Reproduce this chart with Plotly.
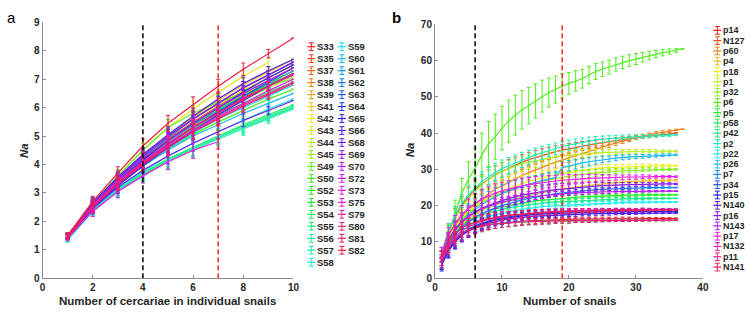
import colorsys
import plotly.graph_objects as go

# ---------------- Panel a data ----------------
names_a = ["S33", "S35", "S37", "S38", "S39", "S41", "S42", "S43", "S44", "S45",
           "S49", "S50", "S52", "S53", "S54", "S55", "S56", "S57", "S58",
           "S59", "S60", "S61", "S62", "S63", "S64", "S65", "S66", "S68", "S69",
           "S70", "S72", "S73", "S75", "S79", "S80", "S81", "S82"]
vals_a = [
    [1.45, 2.5, 3.35, 4.1, 4.75, 5.35, 5.85, 6.35, 6.8, 7.2],
    [1.5, 2.6, 3.45, 4.25, 4.95, 5.6, 6.15, 6.7, 7.15, 7.6],
    [1.45, 2.55, 3.45, 4.2, 4.9, 5.5, 6.05, 6.6, 7.05, 7.5],
    [1.5, 2.55, 3.4, 4.15, 4.8, 5.4, 5.95, 6.5, 6.95, 7.4],
    [1.45, 2.5, 3.4, 4.1, 4.75, 5.35, 5.9, 6.4, 6.85, 7.3],
    [1.5, 2.6, 3.5, 4.3, 5.0, 5.65, 6.25, 6.8, 7.25, 7.7],
    [1.5, 2.65, 3.6, 4.5, 5.3, 5.95, 6.55, 7.1, 7.6],
    [1.5, 2.6, 3.5, 4.3, 5.0, 5.6, 6.1, 6.6, 7.05, 7.5],
    [1.45, 2.55, 3.4, 4.1, 4.7, 5.3, 5.8, 6.25, 6.7, 7.1],
    [1.5, 2.6, 3.45, 4.2, 4.85, 5.45, 5.95, 6.45, 6.9, 7.3],
    [1.5, 2.65, 3.6, 4.5, 5.3, 5.8, 6.2, 6.5, 6.8, 7.0],
    [1.45, 2.5, 3.3, 3.95, 4.55, 5.05, 5.5, 5.9, 6.3, 6.65],
    [1.5, 2.55, 3.45, 4.2, 4.85, 5.45, 5.95, 6.4, 6.8, 7.2],
    [1.45, 2.5, 3.35, 4.05, 4.7, 5.25, 5.75, 6.15, 6.55, 6.9],
    [1.4, 2.4, 3.15, 3.7, 4.2, 4.6, 5.0, 5.4, 5.75, 6.1],
    [1.4, 2.4, 3.1, 3.65, 4.15, 4.55, 4.95, 5.3, 5.65, 6.0],
    [1.35, 2.35, 3.1, 3.7, 4.15, 4.6, 5.0, 5.35, 5.7, 6.05],
    [1.35, 2.35, 3.05, 3.6, 4.1, 4.5, 4.9, 5.25, 5.6, 5.95],
    [1.4, 2.4, 3.15, 3.75, 4.3, 4.75, 5.15, 5.55, 5.95, 6.3],
    [1.45, 2.45, 3.25, 3.95, 4.55, 5.1, 5.6, 6.0, 6.4, 6.8],
    [1.45, 2.5, 3.3, 3.95, 4.5, 5.0, 5.4, 5.8, 6.15, 6.5],
    [1.5, 2.55, 3.4, 4.15, 4.8, 5.4, 5.9, 6.4, 6.85, 7.3],
    [1.5, 2.6, 3.5, 4.25, 4.95, 5.6, 6.15, 6.7, 7.15, 7.6],
    [1.45, 2.5, 3.35, 4.05, 4.7, 5.3, 5.85, 6.4, 6.9, 7.4],
    [1.45, 2.45, 3.25, 3.95, 4.6, 5.2, 5.75, 6.25, 6.75, 7.2],
    [1.5, 2.55, 3.4, 4.15, 4.85, 5.45, 6.0, 6.55, 7.05, 7.5],
    [1.5, 2.65, 3.55, 4.35, 5.05, 5.7, 6.3, 6.85, 7.3, 7.7],
    [1.45, 2.45, 3.2, 3.8, 4.3, 4.75, 5.15, 5.55, 5.9, 6.25],
    [1.5, 2.6, 3.5, 4.3, 5.0, 5.6, 6.15, 6.7, 7.15, 7.6],
    [1.5, 2.55, 3.45, 4.2, 4.85, 5.45, 6.0, 6.5, 6.95, 7.4],
    [1.45, 2.5, 3.3, 4.0, 4.65, 5.2, 5.7, 6.15, 6.6, 7.0],
    [1.4, 2.35, 3.05, 3.6, 4.1, 4.5, 4.8],
    [1.5, 2.55, 3.4, 4.1, 4.75, 5.3, 5.8, 6.3, 6.75, 7.15],
    [1.45, 2.5, 3.3, 4.0, 4.6, 5.15, 5.65, 6.1, 6.5, 6.9],
    [1.5, 2.5, 3.35, 4.05, 4.7, 5.3, 5.8, 6.3, 6.75, 7.2],
    [1.45, 2.5, 3.3, 4.0, 4.6, 5.15, 5.6, 6.05, 6.45, 6.85],
    [1.5, 2.7, 3.7, 4.65, 5.45, 6.1, 6.75, 7.35, 7.9, 8.45],
]
err_a = [0.08, 0.18, 0.22, 0.25, 0.28, 0.28, 0.25, 0.22, 0.15, 0.0]
vlines_a = [4, 7]

# ---------------- Panel b data ----------------
names_b = ["p14", "N127", "p60", "p4", "p18", "p1", "p32", "p6", "p5", "p58", "p42", "p2",
           "p22", "p26", "p7", "p34", "p15", "N140", "p16", "N143", "p17", "N132", "p11", "N141"]
vals_b = [
    [4, 8, 10.5, 12, 13, 13.8, 14.3, 14.7, 15, 15.2, 15.4, 15.5, 15.7, 15.8, 15.9, 16, 16, 16.1, 16.2, 16.2, 16.3, 16.3, 16.3, 16.4, 16.4, 16.4, 16.4, 16.5, 16.5, 16.5, 16.5, 16.5, 16.5, 16.5, 16.5, 16.5],
    [7, 13, 17, 20, 22.5, 24.5, 26, 27.3, 28.5, 29.5, 30.4, 31.2, 32, 32.7, 33.3, 33.9, 34.4, 34.9, 35.3, 35.7, 36.1, 36.5, 36.8, 37.1, 37.4, 37.7, 38, 38.3, 38.5, 38.8, 39, 39.2, 39.4, 39.6, 39.8, 40],
    [6, 11, 14.5, 17, 19, 20.5, 22, 23.3, 24.5, 25.5, 26.5, 27.4, 28.3, 29.1, 29.9, 30.6, 31.3, 32, 32.6, 33.3, 33.9, 34.5, 35.1, 35.7, 36.3, 36.8, 37.3, 37.8, 38.3, 38.8, 39.2, 39.6, 40, 40.3, 40.6, 40.9, 41.1],
    [5, 10, 13, 15, 16.5, 17.7, 18.7, 19.5, 20.2, 20.8, 21.4, 21.9, 22.4, 22.8, 23.2, 23.6, 24, 24.3, 24.6, 24.9, 25.2, 25.4, 25.6, 25.8, 26, 26.2, 26.3, 26.5, 26.6, 26.7, 26.8, 26.9, 27, 27, 27, 27],
    [6, 11, 14, 16.5, 18.5, 20, 21.3, 22.4, 23.3, 24.1, 24.8, 25.5, 26.1, 26.7, 27.2, 27.7, 28.1, 28.5, 28.9, 29.2, 29.5, 29.8, 30, 30.2, 30.4, 30.5, 30.6, 30.7, 30.8, 30.9, 31, 31, 31, 31, 31, 31],
    [7, 12.5, 16.5, 19.5, 22, 24, 25.8, 27.2, 28.4, 29.4, 30.2, 30.9, 31.5, 32, 32.4, 32.8, 33.1, 33.4, 33.7, 33.9, 34.1, 34.3, 34.4, 34.5, 34.6, 34.7, 34.8, 34.8, 34.9, 34.9, 35, 35, 35, 35, 35, 35],
    [6, 10.5, 13.5, 16, 18, 19.5, 20.8, 21.9, 22.8, 23.6, 24.3, 24.9, 25.4, 25.9, 26.4, 26.8, 27.2, 27.5, 27.8, 28.1, 28.4, 28.6, 28.8, 29, 29.2, 29.3, 29.5, 29.6, 29.7, 29.8, 29.9, 30, 30, 30, 30, 30],
    [6, 12, 18, 23.5, 27.3, 30.4, 34, 37, 39, 41.4, 43.3, 45, 46.4, 47.6, 48.9, 50.2, 51.2, 52, 53, 53.7, 54.4, 55, 56, 57, 57.6, 58.2, 58.9, 59.5, 60, 60.4, 60.9, 61.4, 61.8, 62.2, 62.5, 62.8, 63.2],
    [5, 9.5, 12.5, 14.5, 16, 17, 17.8, 18.5, 19.1, 19.6, 20, 20.4, 20.7, 21, 21.3, 21.5, 21.7, 21.9, 22.1, 22.2, 22.3, 22.4, 22.5, 22.6, 22.7, 22.7, 22.8, 22.8, 22.9, 22.9, 23, 23, 23, 23, 23, 23],
    [5, 9, 11, 12.5, 13.5, 14, 14.5, 14.8, 15, 15.2, 15.3, 15.4, 15.5, 15.6, 15.6, 15.7, 15.7, 15.8, 15.8, 15.8, 15.9, 15.9, 15.9, 15.9, 16, 16, 16, 16, 16, 16, 16, 16, 16, 16, 16, 16],
    [4.5, 9, 12, 14, 15.5, 16.5, 17.3, 18, 18.5, 19, 19.4, 19.7, 20, 20.3, 20.5, 20.7, 20.9, 21, 21.2, 21.3, 21.4, 21.5, 21.6, 21.7, 21.7, 21.8, 21.8, 21.9, 21.9, 22, 22, 22, 22, 22, 22, 22],
    [7, 13, 17.5, 20.5, 23, 25, 26.7, 28, 29.2, 30.2, 31, 31.8, 32.6, 33.3, 34, 34.6, 35.2, 35.7, 36.3, 36.7, 37.1, 37.5, 37.8, 38.1, 38.3, 38.5, 38.7, 38.8, 38.9, 39, 39.1, 39.2, 39.3, 39.4, 39.4, 39.5],
    [4, 8, 11, 13, 14.5, 15.5, 16.3, 17, 17.5, 18, 18.4, 18.7, 19, 19.3, 19.5, 19.7, 19.9, 20, 20.2, 20.3, 20.4, 20.5, 20.6, 20.7, 20.8, 20.8, 20.9, 20.9, 21, 21, 21, 21, 21, 21, 21, 21],
    [5, 9.5, 13, 15.5, 17.5, 19, 20.3, 21.4, 22.4, 23.3, 24, 24.7, 25.3, 25.9, 26.4, 26.9, 27.4, 27.8, 30.5, 31, 31.4, 31.8, 32.1, 32.4, 32.7, 32.9, 33.1, 33.3, 33.4, 33.5, 33.6, 33.7, 33.8, 33.9, 34, 34],
    [5, 9, 12, 14, 15.5, 16.8, 17.8, 18.7, 19.4, 20, 20.6, 21.1, 21.6, 22, 22.4, 22.7, 23, 23.3, 23.5, 23.7, 23.9, 24.1, 24.3, 24.4, 24.5, 24.6, 24.7, 24.8, 24.8, 24.9, 24.9, 25, 25, 25, 25, 25],
    [4, 8, 10.5, 12.3, 13.5, 14.5, 15.2, 15.8, 16.3, 16.7, 17, 17.3, 17.5, 17.7, 17.9, 18, 18.2, 18.3, 18.4, 18.5, 18.6, 18.6, 18.7, 18.7, 18.8, 18.8, 18.8, 18.9, 18.9, 18.9, 19, 19, 19, 19, 19, 19],
    [3.5, 7.5, 10, 12, 13.3, 14.2, 14.9, 15.5, 16, 16.4, 16.7, 17, 17.2, 17.4, 17.6, 17.7, 17.8, 17.9, 18, 18.1, 18.1, 18.2, 18.2, 18.3, 18.3, 18.3, 18.4, 18.4, 18.4, 18.4, 18.5, 18.5, 18.5, 18.5, 18.5, 18.5],
    [4, 7.5, 10, 11.8, 13, 14, 14.7, 15.2, 15.7, 16, 16.3, 16.6, 16.8, 17, 17.1, 17.2, 17.3, 17.4, 17.5, 17.6, 17.6, 17.7, 17.7, 17.8, 17.8, 17.8, 17.9, 17.9, 17.9, 17.9, 18, 18, 18, 18, 18, 18],
    [6, 10.5, 13.5, 15.5, 17, 18.3, 19.3, 20.1, 20.8, 21.4, 22, 22.5, 22.9, 23.3, 23.6, 23.9, 24.2, 24.4, 24.6, 24.8, 25, 25.1, 25.3, 25.4, 25.5, 25.6, 25.7, 25.7, 25.8, 25.8, 25.9, 25.9, 26, 26, 26, 26],
    [6, 10.5, 13.5, 15.5, 17, 18.2, 19.1, 19.9, 20.5, 21, 21.4, 21.8, 22.1, 22.4, 22.6, 22.8, 23, 23.2, 23.3, 23.4, 23.5, 23.6, 23.7, 23.7, 23.8, 23.8, 23.9, 23.9, 23.9, 24, 24, 24, 24, 24, 24, 24],
    [7, 12, 15, 17.5, 19.3, 20.7, 21.8, 22.7, 23.5, 24.1, 24.6, 25.1, 25.5, 25.8, 26.1, 26.4, 26.6, 26.8, 27, 27.2, 27.3, 27.4, 27.5, 27.6, 27.7, 27.7, 27.8, 27.8, 27.9, 27.9, 28, 28, 28, 28, 28, 28],
    [5, 9, 11.5, 13, 14.2, 15, 15.7, 16.2, 16.6, 17, 17.3, 17.5, 17.7, 17.9, 18, 18.2, 18.3, 18.4, 18.5, 18.6, 18.6, 18.7, 18.7, 18.8, 18.8, 18.8, 18.9, 18.9, 18.9, 18.9, 19, 19, 19, 19, 19, 19],
    [4.5, 8.5, 10.8, 12.3, 13.3, 14, 14.5, 14.8, 15, 15.2, 15.3, 15.4, 15.5, 15.6, 15.6, 15.7, 15.7, 15.8, 15.8, 15.8, 15.9, 15.9, 15.9, 15.9, 16, 16, 16, 16, 16, 16, 16, 16, 16, 16, 16, 16],
    [6, 10, 12.3, 13.8, 14.8, 15.5, 16, 16.4, 16.8, 17.1, 17.3, 17.5, 17.7, 17.9, 18, 18.1, 18.2, 18.3, 18.4, 18.4, 18.5, 18.5, 18.6, 18.6, 18.6, 18.7, 18.7, 18.7, 18.7, 18.8, 18.8, 18.8, 18.8, 18.8, 18.8, 18.8],
]
err_green = [1.5, 2.5, 3.5, 4, 4.8, 5.5, 6, 6.2, 6.2, 6, 5.8, 5.5, 5.3, 5, 4.7, 4.4, 4, 3.7, 3.4, 3, 2.8,
             2.6, 2.4, 2.2, 2, 1.9, 1.8, 1.7, 1.6, 1.5, 1.3, 1.2, 1.0, 0.9, 0.7, 0.5, 0.0]
err_mid = [1.5, 2.0, 2.3, 2.5, 2.6, 2.6, 2.6, 2.5, 2.5, 2.4, 2.3, 2.2, 2.1, 2.0, 1.9, 1.8, 1.7, 1.6, 1.5,
           1.4, 1.3, 1.2, 1.1, 1.0, 0.9, 0.8, 0.7, 0.65, 0.6, 0.55, 0.5, 0.45, 0.4, 0.35, 0.3, 0.2, 0.0]
err_low = [1.5, 1.9, 1.9, 1.8, 1.7, 1.6, 1.5, 1.4, 1.3, 1.2, 1.1, 1.0, 0.95, 0.9, 0.85, 0.8, 0.75, 0.7,
           0.65, 0.6, 0.55, 0.5, 0.5, 0.45, 0.45, 0.4, 0.4, 0.35, 0.35, 0.3, 0.3, 0.25, 0.2, 0.2, 0.15, 0.1, 0.0]
err_class_b = ["low", "mid", "mid", "mid", "mid", "mid", "mid", "green", "low", "low", "low", "mid",
               "low", "mid", "low", "low", "low", "low", "mid", "low", "mid", "low", "low", "low"]
vlines_b = [6, 19]

W, H = 750, 315
FONT = "Liberation Sans, Arial, sans-serif"
TXT = "#262626"
AXC = "#8c8c8c"


def hsv_colors(n):
    out = []
    for i in range(n):
        r, g, b = colorsys.hsv_to_rgb(i / n, 0.88, 0.93)
        out.append("rgb(%d,%d,%d)" % (r * 255, g * 255, b * 255))
    return out


cols_a = hsv_colors(len(names_a))
cols_b = hsv_colors(len(names_b))
errs = {"green": err_green, "mid": err_mid, "low": err_low}

fig = go.Figure()
for name, v, c in zip(names_a, vals_a, cols_a):
    fig.add_trace(go.Scatter(
        x=list(range(1, len(v) + 1)), y=v, mode="lines", name=name,
        line=dict(color=c, width=1.2),
        error_y=dict(type="data", array=err_a[:len(v)], color=c, thickness=1, width=2),
        xaxis="x", yaxis="y", showlegend=False))
for name, v, c, ec in zip(names_b, vals_b, cols_b, err_class_b):
    fig.add_trace(go.Scatter(
        x=list(range(1, len(v) + 1)), y=v, mode="lines", name=name,
        line=dict(color=c, width=1.2),
        error_y=dict(type="data", array=errs[ec][:len(v)], color=c, thickness=1, width=2),
        xaxis="x2", yaxis="y2", showlegend=False))

shapes = []
for xv, col in zip(vlines_a, ["black", "#ff2a2a"]):
    shapes.append(dict(type="line", xref="x", yref="y", x0=xv, x1=xv, y0=0, y1=9,
                       line=dict(color=col, width=1.5, dash="5px,3px")))
for xv, col in zip(vlines_b, ["black", "#ff2a2a"]):
    shapes.append(dict(type="line", xref="x2", yref="y2", x0=xv, x1=xv, y0=0, y1=70,
                       line=dict(color=col, width=1.5, dash="5px,3px")))


def px(x):
    return x / W


def py(y):
    return 1 - y / H


annotations = []


def legend_item(cx, cy, color, text, size, gap):
    # error-bar glyph
    shapes.append(dict(type="line", xref="paper", yref="paper", x0=px(cx), x1=px(cx),
                       y0=py(cy - 4), y1=py(cy + 4), line=dict(color=color, width=1)))
    for dy in (-4, 4):
        shapes.append(dict(type="line", xref="paper", yref="paper", x0=px(cx - 2.5), x1=px(cx + 2.5),
                           y0=py(cy + dy), y1=py(cy + dy), line=dict(color=color, width=1)))
    shapes.append(dict(type="line", xref="paper", yref="paper", x0=px(cx - 4), x1=px(cx + 4),
                       y0=py(cy), y1=py(cy), line=dict(color=color, width=1.2)))
    annotations.append(dict(x=px(cx + gap), y=py(cy), xref="paper", yref="paper", text=text,
                            showarrow=False, xanchor="left", yanchor="middle", borderpad=0,
                            font=dict(family=FONT, size=size, color=TXT, weight="bold")))


for i, (n, c) in enumerate(zip(names_a, cols_a)):
    col, row = (0, i) if i < 19 else (1, i - 19)
    legend_item(312 + col * 31, 42.3 + row * 12.45, c, n, 9.5, 5)
for i, (n, c) in enumerate(zip(names_b, cols_b)):
    legend_item(723, 25.3 + i * 10.7, c, n, 9, 4.5)

# axis titles & panel letters
annotations += [
    dict(x=px(166), y=py(307), text="Number of cercariae in individual snails"),
    dict(x=px(573), y=py(307), text="Number of snails"),
    dict(x=px(22), y=py(150), text="<i>Na</i>", textangle=-90),
    dict(x=px(412), y=py(150), text="<i>Na</i>", textangle=-90),
]
for a in annotations[-4:]:
    a.update(xref="paper", yref="paper", showarrow=False, xanchor="center", yanchor="middle",
             font=dict(family=FONT, size=11.5, color=TXT, weight="bold"))
annotations += [
    dict(x=px(2), y=py(1), text="a", xref="paper", yref="paper", showarrow=False,
         xanchor="left", yanchor="top", font=dict(family=FONT, size=15, color="black")),
    dict(x=px(392), y=py(1), text="b", xref="paper", yref="paper", showarrow=False,
         xanchor="left", yanchor="top", font=dict(family=FONT, size=15, color="black", weight="bold")),
]

axis_common = dict(showline=True, linecolor=AXC, linewidth=1, ticks="inside", ticklen=3,
                   tickcolor=AXC, showgrid=False, zeroline=False,
                   tickfont=dict(family=FONT, size=10, color=TXT, weight="bold"))

fig.update_layout(
    width=W, height=H, margin=dict(l=0, r=0, t=0, b=0),
    paper_bgcolor="white", plot_bgcolor="white", showlegend=False,
    xaxis=dict(domain=[px(40), px(294)], range=[0, 10], dtick=2, anchor="y", **axis_common),
    yaxis=dict(domain=[py(283), py(17)], range=[0, 9], dtick=1, anchor="x", **axis_common),
    xaxis2=dict(domain=[px(437.2), px(708.4)], range=[0, 40], dtick=10, anchor="y2", **axis_common),
    yaxis2=dict(domain=[py(283), py(19)], range=[0, 70], dtick=10, anchor="x2", **axis_common),
    shapes=shapes, annotations=annotations,
)

fig.write_html("out.html", config={"displayModeBar": False},
               post_script="document.body.style.margin='0';")
